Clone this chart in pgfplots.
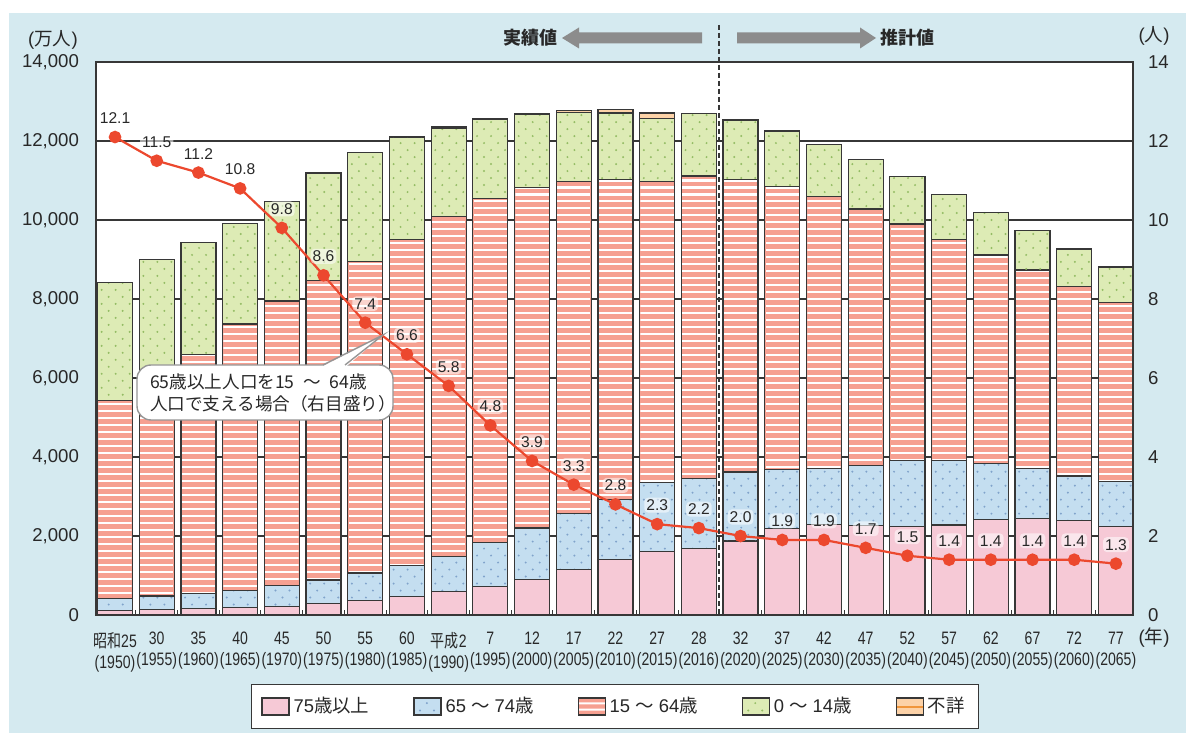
\documentclass[border=0pt]{standalone}
\usepackage{fontspec}
\setmainfont{Liberation Sans}
\newfontfamily\jp{Noto Sans CJK JP}
\newfontfamily\nar[FakeStretch=0.78]{Liberation Sans}
\newfontfamily\jpnar[FakeStretch=0.78]{Noto Sans CJK JP}
\usepackage{pgfplots}
\usepackage{pgfplotstable}
\pgfplotsset{compat=1.18}

\definecolor{bgblue}{RGB}{213,234,240}
\definecolor{pinkF}{RGB}{246,201,214}
\definecolor{blueF}{RGB}{196,222,240}
\definecolor{blueD}{RGB}{128,163,203}
\definecolor{salmon}{RGB}{246,160,145}
\definecolor{greenF}{RGB}{221,235,181}
\definecolor{greenD}{RGB}{148,188,100}
\definecolor{peach}{RGB}{252,210,168}
\definecolor{orangeL}{RGB}{240,150,60}
\definecolor{lineRed}{RGB}{236,72,46}
\definecolor{edge}{RGB}{55,55,55}
\definecolor{txt}{RGB}{40,40,40}
\definecolor{arrowgray}{RGB}{140,140,140}
\definecolor{callgray}{RGB}{150,150,150}

% population by age group (10,000 persons) and workers per elderly person
\pgfplotstableread{
x  o75  o65  w15  c0   na   r     lab
0  107  309  5017 2979 0    12.1  12.1
1  140  339  5517 3012 0    11.5  11.5
2  164  376  6047 2843 0    11.2  11.2
3  189  435  6744 2553 0    10.8  10.8
4  224  515  7212 2515 0    9.8   9.8
5  284  603  7581 2722 4    8.6   8.6
6  366  699  7883 2751 7    7.4   7.4
7  471  776  8251 2603 4    6.6   6.6
8  597  892  8590 2249 33   5.8   5.8
9  717  1109 8716 2001 14   4.8   4.8
10 900  1301 8622 1847 23   3.9   3.9
11 1160 1407 8409 1752 49   3.3   3.3
12 1407 1517 8103 1680 99   2.8   2.8
13 1613 1734 7629 1589 144  2.3   2.3
14 1691 1768 7656 1578 0    2.2   2.2
15 1872 1747 7406 1507 0    2.0   2.0
16 2180 1497 7170 1407 0    1.9   1.9
17 2288 1428 6875 1321 0    1.9   1.9
18 2260 1522 6494 1246 0    1.7   1.7
19 2239 1681 5978 1194 0    1.5   1.5
20 2277 1643 5584 1138 0    1.4   1.4
21 2417 1424 5275 1077 0    1.4   1.4
22 2446 1258 5028 1012 0    1.4   1.4
23 2387 1133 4793 951  0    1.4   1.4
24 2248 1133 4529 898  0    1.3   1.3
}\pop
% cumulative segment boundaries of the stacks
\pgfplotstablecreatecol[create col/expr={\thisrow{o75}+\thisrow{o65}}]{b1}\pop
\pgfplotstablecreatecol[create col/expr={\thisrow{b1}+\thisrow{w15}}]{b2}\pop
\pgfplotstablecreatecol[create col/expr={\thisrow{b2}+\thisrow{c0}}]{b3}\pop

% white stripes inside one bar segment: #1 index, #2 bottom, #3 top
\newcommand\stripeband[3]{%
  \begin{scope}
    \pgfmathsetmacro\xl{#1-0.401}\pgfmathsetmacro\xr{#1+0.401}%
    \pgfmathsetmacro\yl{#2+25}\pgfmathsetmacro\yr{#3-25}%
    \clip (axis cs:\xl,\yl) rectangle (axis cs:\xr,\yr);
    \pgfmathtruncatemacro\ka{floor(#2/177)}%
    \pgfmathtruncatemacro\kb{ceil(#3/177)}%
    \foreach \k in {\ka,...,\kb}{%
      \pgfmathsetmacro\sa{\k*177}\pgfmathsetmacro\sb{\k*177+52}%
      \fill[white] (axis cs:\xl,\sa) rectangle (axis cs:\xr,\sb);
    }
  \end{scope}}
% staggered dots inside one bar segment: #1 index, #2 bottom, #3 top, #4 colour
\newcommand\dotband[4]{%
  \begin{scope}
    \pgfmathsetmacro\xl{#1-0.401}\pgfmathsetmacro\xr{#1+0.401}%
    \pgfmathsetmacro\yl{#2+25}\pgfmathsetmacro\yr{#3-25}%
    \clip (axis cs:\xl,\yl) rectangle (axis cs:\xr,\yr);
    \pgfmathtruncatemacro\ra{floor(#2/177)}%
    \pgfmathtruncatemacro\rb{ceil(#3/177)}%
    \foreach \r in {\ra,...,\rb}{%
      \pgfmathsetmacro\yy{\r*177+88}%
      \pgfmathsetmacro\off{mod(\r,2)==0 ? 0.1 : 0.268}%
      \foreach \m in {0,1,2}{%
        \pgfmathsetmacro\xx{#1-0.42+\off+\m*0.336}%
        \fill[#4] (axis cs:\xx,\yy) circle[radius=0.55pt];
      }
    }
  \end{scope}}

\begin{document}
\begin{tikzpicture}
\begin{scope}[x=0.5pt,y=0.5pt]
  \useasboundingbox (0,0) rectangle (1186,733);
  \fill[white] (0,0) rectangle (1186,733);
  \fill[bgblue] (9,0) rectangle (1186,720);
\end{scope}

\begin{axis}[
  at={(48pt,59pt)}, anchor=south west,
  width=518.5pt, height=276.5pt, scale only axis,
  axis background/.style={fill=white},
  xmin=-0.456, xmax=24.41, ymin=0, ymax=14000,
  ybar stacked, bar width=0.84,
  axis line style={edge, line width=0.6pt},
  ytick={0,2000,...,14000}, scaled y ticks=false,
  ymajorgrids, grid style={edge, line width=0.6pt},
  major tick length=0pt, minor tick length=2.5pt, tick align=inside,
  xtick pos=bottom, ytick pos=left,
  minor tick style={edge, line width=0.5pt},
  xtick={0,...,24},
  minor xtick={0.5,1.5,...,23.5},
  xticklabels={{{\jpnar 昭和}25\\(1950)},{30\\(1955)},{35\\(1960)},{40\\(1965)},{45\\(1970)},{50\\(1975)},{55\\(1980)},{60\\(1985)},{{\jpnar 平成}2\\(1990)},{7\\(1995)},{12\\(2000)},{17\\(2005)},{22\\(2010)},{27\\(2015)},{28\\(2016)},{32\\(2020)},{37\\(2025)},{42\\(2030)},{47\\(2035)},{52\\(2040)},{57\\(2045)},{62\\(2050)},{67\\(2055)},{72\\(2060)},{77\\(2065)}},
  xticklabel style={font=\nar\fontsize{9}{10.5}\selectfont, align=center, text=txt, yshift=-5pt},
  yticklabel style={font=\fontsize{9.3}{10}\selectfont, text=txt, xshift=-5pt},
  /pgf/number format/1000 sep={,},
  /pgf/number format/assume math mode=true,
  legend columns=5,
  legend style={at={(0.5005,-0.1655)}, anchor=center, draw=edge, fill=white,
    font=\fontsize{9.2}{11}\selectfont, text=txt, inner xsep=5pt, inner ysep=4.5pt,
    /tikz/every even column/.append style={column sep=20pt}},
  legend image code/.code={\draw[#1] (0pt,-4.25pt) rectangle (13.5pt,4.25pt);},
  after end axis/.code={%
    \foreach \i in {0,...,24}{%
      \pgfplotstablegetelem{\i}{o75}\of\pop\let\ya\pgfplotsretval
      \pgfplotstablegetelem{\i}{b1}\of\pop\let\yb\pgfplotsretval
      \pgfplotstablegetelem{\i}{b2}\of\pop\let\yc\pgfplotsretval
      \pgfplotstablegetelem{\i}{b3}\of\pop\let\yd\pgfplotsretval
      \dotband{\i}{\ya}{\yb}{blueD}%
      \stripeband{\i}{\yb}{\yc}%
      \dotband{\i}{\yc}{\yd}{greenD}%
    }},
]
\addplot[fill=pinkF, draw=edge, line width=0.6pt] table[x=x,y=o75]{\pop};
\addlegendentry{75{\jp 歳以上}}
\addplot[fill=blueF, draw=edge, line width=0.6pt,
  legend image code/.code={%
    \path[fill=blueF, draw=none] (0pt,-4.25pt) rectangle (13.5pt,4.25pt);
    \path[fill=blueD, draw=none] (3pt,-2pt) circle[radius=0.55pt] (10pt,-2pt) circle[radius=0.55pt]
      (6.5pt,1.7pt) circle[radius=0.55pt];
    \path[draw=edge, fill=none, line width=0.6pt] (0pt,-4.25pt) rectangle (13.5pt,4.25pt);}]
  table[x=x,y=o65]{\pop};
\addlegendentry{65 {\jp ～} 74{\jp 歳}}
\addplot[fill=salmon, draw=edge, line width=0.6pt,
  legend image code/.code={%
    \path[fill=salmon, draw=none] (0pt,-4.25pt) rectangle (13.5pt,4.25pt);
    \path[fill=white, draw=none] (0pt,-2pt) rectangle (13.5pt,-1pt) (0pt,1.1pt) rectangle (13.5pt,2.1pt);
    \path[draw=edge, fill=none, line width=0.6pt] (0pt,-4.25pt) rectangle (13.5pt,4.25pt);}]
  table[x=x,y=w15]{\pop};
\addlegendentry{15 {\jp ～} 64{\jp 歳}}
\addplot[fill=greenF, draw=edge, line width=0.6pt,
  legend image code/.code={%
    \path[fill=greenF, draw=none] (0pt,-4.25pt) rectangle (13.5pt,4.25pt);
    \path[fill=greenD, draw=none] (3pt,-2pt) circle[radius=0.55pt] (10pt,-2pt) circle[radius=0.55pt]
      (6.5pt,1.7pt) circle[radius=0.55pt];
    \path[draw=edge, fill=none, line width=0.6pt] (0pt,-4.25pt) rectangle (13.5pt,4.25pt);}]
  table[x=x,y=c0]{\pop};
\addlegendentry{0 {\jp ～} 14{\jp 歳}}
\addplot[fill=peach, draw=edge, line width=0.6pt,
  legend image code/.code={\draw[fill=peach, draw=edge, line width=0.6pt] (0pt,-4.25pt) rectangle (13.5pt,4.25pt);
    \draw[orangeL, line width=1pt] (0.3pt,0pt) -- (13.2pt,0pt);}] table[x=x,y=na]{\pop};
\addlegendentry{{\jp 不詳}}
\end{axis}

\begin{axis}[
  at={(48pt,59pt)}, anchor=south west,
  width=518.5pt, height=276.5pt, scale only axis,
  xmin=-0.456, xmax=24.41, ymin=0, ymax=14,
  axis x line=none, axis y line*=right,
  axis line style={edge, line width=0.6pt},
  ytick={0,2,...,14}, major tick length=0pt,
  yticklabel style={font=\fontsize{9.3}{10}\selectfont, text=txt, xshift=4pt},
  /pgf/number format/assume math mode=true,
  clip=false,
]
\addplot[lineRed, line width=1.1pt, mark=*, mark size=2.6pt,
  mark options={fill=lineRed, draw=lineRed},
  nodes near coords, point meta=explicit symbolic,
  every node near coord/.append style={font=\fontsize{7.8}{9}\selectfont, text=txt,
    anchor=center, yshift=9.5pt, fill=white, fill opacity=0.55, text opacity=1,
    rounded corners=2pt, inner sep=1pt}]
  table[x=x, y=r, meta=lab]{\pop};
\end{axis}

\begin{scope}[x=0.5pt,y=0.5pt]
  % boundary between census results and projections
  \draw[edge, line width=0.6pt, dash pattern=on 2.5pt off 1.5pt] (719,708) -- (719,118);
  \fill[arrowgray] (702,689.5) -- (579,689.5) -- (579,684.5) -- (562,695) -- (579,705.5) -- (579,700.5) -- (702,700.5) -- cycle;
  \fill[arrowgray] (737,689.5) -- (860,689.5) -- (860,684.5) -- (876,695) -- (860,705.5) -- (860,700.5) -- (737,700.5) -- cycle;
  \node[text=txt, font=\jp\bfseries\fontsize{9}{10}\selectfont] at (530,695) {実績値};
  \node[text=txt, font=\jp\bfseries\fontsize{9}{10}\selectfont] at (907,695) {推計値};
  % axis units
  \node[text=txt, font=\fontsize{9.3}{10}\selectfont] at (53,693) {({\jp 万人})};
  \node[text=txt, font=\fontsize{9.3}{10}\selectfont] at (1154,697) {({\jp 人})};
  \node[text=txt, font=\fontsize{9.3}{10}\selectfont] at (1154,95) {({\jp 年})};
  % callout for the ratio line
  \draw[callgray, line width=0.7pt, fill=white, rounded corners=7pt] (137,313) rectangle (393,368);
  \fill[white] (322,366.4) -- (383,398) -- (346,366.4) -- cycle;
  \draw[callgray, line width=0.7pt] (323,368) -- (383,398) -- (345,368);
  \node[anchor=west, align=left, text=txt, font=\jp\fontsize{8.8}{11}\selectfont] at (143,340)
    {65歳以上人口を15\hspace{0.5em}～\hspace{0.5em}64歳\\人口で支える場合（右目盛り）};
\end{scope}
\end{tikzpicture}
\end{document}
